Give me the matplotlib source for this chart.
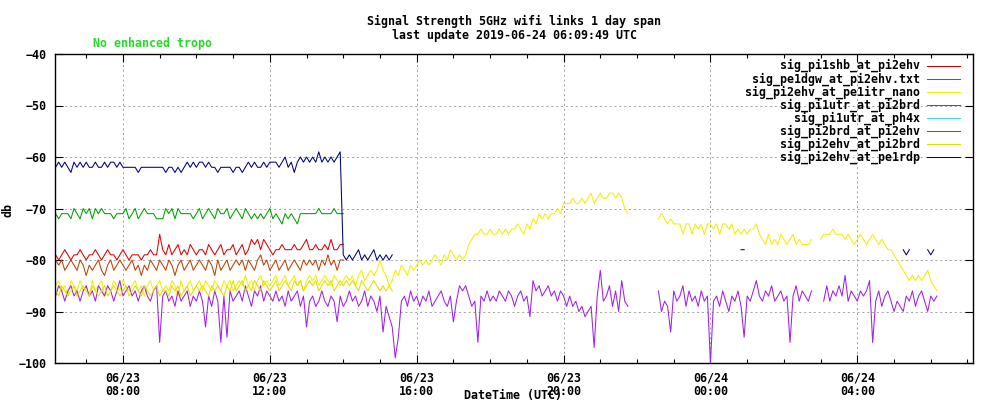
import numpy as np
import matplotlib
matplotlib.use("Agg")
import matplotlib.pyplot as plt
import matplotlib.dates as mdates
from datetime import datetime, timedelta

nan = np.nan

# samples every 5 minutes from 06/23 06:10 UTC
start_time = datetime(2019, 6, 23, 6, 10)
n_samples = 289

labels = [
    "sig_pi1shb_at_pi2ehv",
    "sig_pe1dgw_at_pi2ehv.txt",
    "sig_pi2ehv_at_pe1itr_nano",
    "sig_pi1utr_at_pi2brd",
    "sig_pi1utr_at_ph4x",
    "sig_pi2brd_at_pi2ehv",
    "sig_pi2ehv_at_pi2brd",
    "sig_pi2ehv_at_pe1rdp",
]
colors = ["#e00000", "#00a000", "#f2f000", "#a020e8",
          "#40e0d8", "#c04000", "#e6dc00", "#000080"]

pi1shb = [
    -79, -80, -79, -78, -79, -80, -79, -79, -78, -79, -80, -79,
    -79, -78, -79, -80, -79, -78, -79, -79, -80, -79, -78, -79,
    -80, -79, -79, -79, -80, -79, -79, -78, -79, -79, -75, -78,
    -79, -77, -79, -78, -77, -79, -78, -79, -77, -78, -79, -78,
    -78, -79, -77, -78, -79, -78, -77, -79, -78, -78, -77, -79,
    -78, -77, -79, -78, -76, -77, -76, -78, -76, -77, -78, -79,
    -78, -78, -77, -78, -78, -78, -77, -78, -78, -77, -76, -78,
    -78, -77, -78, -78, -77, -78, -76, -78, -78, -77, -77,
]

pe1dgw = [
    -71, -72, -71, -71, -71, -72, -70, -71, -72, -70, -71, -70,
    -72, -70, -71, -70, -71, -71, -71, -72, -71, -71, -71, -70,
    -72, -71, -70, -72, -71, -70, -71, -71, -71, -72, -72, -72,
    -70, -71, -70, -72, -70, -71, -71, -71, -71, -72, -71, -70,
    -72, -71, -70, -71, -72, -70, -71, -71, -70, -72, -71, -70,
    -71, -72, -70, -71, -72, -71, -72, -71, -72, -71, -70, -72,
    -71, -72, -73, -71, -72, -71, -72, -73, -71, -71, -71, -71,
    -71, -71, -70, -71, -71, -71, -71, -70, -71, -71, -71,
]

pe1itr_nano = [
    -85, -84, -86, -85, -87, -84, -85, -86, -84, -86, -85, -87,
    -84, -86, -85, -84, -87, -85, -86, -84, -85, -86, -84, -85,
    -86, -85, -84, -86, -85, -87, -85, -84, -86, -85, -84, -86,
    -85, -86, -84, -85, -87, -84, -86, -85, -84, -86, -85, -84,
    -86, -84, -85, -86, -84, -85, -86, -84, -85, -84, -86, -85,
    -84, -85, -83, -85, -84, -86, -84, -83, -85, -84, -85, -84,
    -83, -85, -84, -83, -85, -84, -83, -85, -84, -86, -84, -83,
    -84, -83, -85, -84, -83, -84, -85, -83, -84, -85, -84, -83,
    -84, -83, -85, -83, -82, -84, -83, -82, -83, -82, -80, -82,
    -83, -85, -84, -82, -83, -81, -82, -83, -81, -82, -81, -80,
    -81, -80, -81, -80, -79, -80, -81, -79, -80, -78, -79, -80,
    -79, -80, -79, -77, -76, -75, -75, -74, -75, -75, -74, -75,
    -75, -74, -75, -74, -75, -74, -74, -73, -74, -75, -73, -74,
    -72, -73, -71, -72, -71, -72, -71, -71, -70, -71, -69, -69,
    -69, -68, -69, -69, -68, -69, -68, -67, -69, -68, -67, -68,
    -68, -67, -67, -68, -67, -68, -70, -71, nan, nan, nan, nan,
    nan, nan, nan, nan, nan, -72, -71, -72, -73, -72, -73, -73,
    -73, -75, -73, -73, -75, -73, -74, -73, -75, -73, -73, -74,
    -73, -75, -73, -73, -74, -73, -75, -74, -75, -74, -75, -74,
    -74, -73, -75, -76, -77, -75, -77, -76, -77, -75, -76, -77,
    -76, -75, -77, -76, -77, -77, -77, -76, nan, nan, -76, -75,
    -75, -75, -74, -75, -75, -75, -76, -75, -76, -77, -76, -75,
    -76, -77, -76, -75, -76, -77, -76, -77, -78, -78, -79, -80,
    -81, -82, -83, -84, -83, -84, -83, -84, -83, -82, -84, -85, -86,
]

pi1utr_pi2brd = [
    -87, -85, -86, -88, -86, -85, -87, -86, -88, -86, -85, -87,
    -86, -88, -85, -86, -87, -85, -86, -88, -86, -84, -87, -86,
    -85, -87, -86, -88, -86, -85, -87, -88, -86, -85, -96, -87,
    -86, -88, -87, -89, -86, -88, -87, -86, -89, -87, -88, -86,
    -88, -93, -87, -89, -86, -88, -96, -87, -95, -86, -88, -87,
    -86, -88, -85, -87, -89, -86, -87, -85, -88, -86, -87, -88,
    -86, -88, -87, -89, -86, -88, -87, -86, -89, -87, -93, -88,
    -87, -89, -88, -86, -88, -89, -87, -88, -92, -87, -89, -88,
    -86, -88, -87, -89, -88, -86, -89, -87, -88, -90, -87, -94,
    -89, -91, -93, -99, -95, -88, -87, -89, -86, -88, -87, -89,
    -87, -88, -86, -89, -88, -87, -86, -88, -89, -87, -92, -88,
    -85, -86, -85, -87, -89, -88, -96, -87, -88, -86, -88, -87,
    -88, -86, -87, -88, -86, -87, -89, -87, -86, -88, -87, -91,
    -84, -86, -85, -87, -86, -85, -87, -86, -88, -86, -87, -89,
    -87, -89, -88, -90, -89, -91, -90, -89, -97, -87, -82, -88,
    -87, -85, -89, -86, -90, -84, -88, -89, nan, nan, nan, nan,
    nan, nan, nan, nan, nan, -86, -90, -88, -89, -94, -86, -88,
    -87, -85, -89, -86, -88, -87, -89, -86, -88, -87, -100, -88,
    -87, -89, -86, -88, -90, -87, -88, -86, -89, -95, -87, -88,
    -86, -84, -87, -88, -86, -87, -85, -88, -87, -86, -88, -87,
    -96, -87, -85, -88, -86, -87, -88, -86, nan, nan, nan, -88,
    -85, -88, -86, -87, -85, -87, -83, -88, -86, -87, -88, -86,
    -87, -86, -84, -96, -88, -86, -89, -87, -86, -88, -90, -88,
    -89, -90, -87, -88, -86, -89, -87, -86, -88, -90, -87, -88, -87,
]

pi1utr_ph4x = []

pi2brd_pi2ehv = [
    -80, -81, -80, -82, -81, -80, -81, -82, -80, -81, -83, -81,
    -82, -81, -80, -82, -83, -81, -80, -82, -81, -80, -81, -82,
    -81, -80, -82, -81, -83, -81, -82, -80, -81, -82, -80, -81,
    -82, -80, -81, -83, -81, -80, -82, -81, -80, -82, -81, -80,
    -81, -82, -80, -81, -83, -80, -82, -81, -80, -82, -81, -80,
    -81, -80, -82, -80, -81, -82, -80, -79, -81, -80, -82, -81,
    -80, -82, -81, -80, -82, -81, -80, -81, -82, -80, -81, -80,
    -81, -80, -82, -80, -81, -79, -81, -80, -82, -80, -80,
]

pi2ehv_pi2brd = [
    -86, -87, -85, -86, -87, -86, -85, -87, -86, -85, -86, -87,
    -85, -86, -87, -86, -85, -87, -86, -85, -86, -87, -86, -85,
    -87, -86, -85, -86, -87, -85, -86, -87, -86, -85, -87, -86,
    -86, -87, -85, -86, -85, -87, -86, -85, -87, -86, -85, -86,
    -85, -86, -87, -85, -86, -85, -86, -87, -85, -86, -84, -86,
    -85, -84, -86, -85, -86, -84, -85, -86, -84, -85, -86, -85,
    -84, -86, -85, -84, -85, -86, -84, -85, -84, -86, -85, -84,
    -85, -84, -86, -85, -84, -85, -84, -86, -85, -84, -85, -84,
    -85, -84, -85, -86, -84, -85, -86, -85, -84, -85, -86, -85,
    -86, -85, -86,
]

pe1rdp = [
    -62, -61, -62, -61, -62, -63, -61, -62, -61, -62, -61, -62,
    -62, -61, -62, -62, -61, -62, -61, -61, -62, -61, -62, -62,
    -62, -62, -62, -63, -62, -62, -62, -62, -62, -62, -62, -62,
    -63, -62, -62, -63, -62, -63, -62, -61, -62, -61, -62, -61,
    -61, -62, -61, -62, -62, -63, -62, -62, -62, -62, -63, -62,
    -62, -63, -62, -61, -62, -61, -62, -62, -61, -62, -61, -61,
    -61, -62, -61, -60, -62, -61, -63, -61, -60, -61, -60, -61,
    -60, -61, -59, -61, -60, -61, -60, -61, -60, -59,
    -79, -80, -79, -80, -79, -78, -80, -79, -80, -79, -78, -80,
    -79, -80, -79, -80, -79,
]
# a few short bits later in the day
pe1rdp_late_idx = [224, 225, 277, 278, 279, 285, 286, 287]
pe1rdp_late_val = [-78, -78, -78, -79, -78, -78, -79, -78]

times = [start_time + timedelta(minutes=5 * i) for i in range(n_samples)]

rdp_full = np.full(n_samples, np.nan)
rdp_full[:len(pe1rdp)] = pe1rdp
rdp_full[pe1rdp_late_idx] = pe1rdp_late_val

series = [pi1shb, pe1dgw, pe1itr_nano, pi1utr_pi2brd,
          pi1utr_ph4x, pi2brd_pi2ehv, pi2ehv_pi2brd, rdp_full]

W, H = 998, 416
fig = plt.figure(figsize=(W / 100, H / 100), dpi=100)
ax = fig.add_axes([55 / W, 1 - 363 / H, (973 - 55) / W, (363 - 54) / H])

font = {"family": "DejaVu Sans Mono", "weight": "bold", "size": 8.4}

for vals, col in zip(series, colors):
    vals = np.array(vals, dtype=float)
    ax.plot(times[:len(vals)], vals, color=col, lw=0.75)

ax.set_ylim(-100, -40)
ax.set_xlim(datetime(2019, 6, 23, 6, 9), datetime(2019, 6, 24, 7, 9))
ax.set_yticks(np.arange(-100, -39, 10))
ax.xaxis.set_major_locator(mdates.HourLocator(byhour=[0, 4, 8, 12, 16, 20]))
ax.xaxis.set_minor_locator(mdates.HourLocator())
ax.xaxis.set_major_formatter(mdates.DateFormatter("%m/%d\n%H:%M"))

ax.tick_params(which="both", direction="in", top=True, right=True)
ax.tick_params(which="major", length=6, width=0.8)
ax.tick_params(which="minor", length=3, width=0.8)
ax.tick_params(axis="y", pad=6)
ax.tick_params(axis="x", pad=6)
for lab in ax.get_xticklabels() + ax.get_yticklabels():
    lab.set_fontfamily(font["family"])
    lab.set_fontweight("bold")
    lab.set_fontsize(font["size"])
    lab.set_linespacing(1.1)

ax.grid(True, which="major", color="#a0a0a0", linestyle=(0, (2, 3)), lw=0.7)
for sp in ax.spines.values():
    sp.set_linewidth(1.0)

# title and labels
fig.text(514 / W, 1 - 21 / H, "Signal Strength 5GHz wifi links 1 day span",
         ha="center", va="center", **font)
fig.text(514 / W, 1 - 35 / H, "last update 2019-06-24 06:09:49 UTC",
         ha="center", va="center", **font)
fig.text(93 / W, 1 - 44 / H, "No enhanced tropo", ha="left", va="center",
         color="#22dd22", **font)
fig.text(8 / W, 1 - 210 / H, "db", ha="center", va="center", rotation=90, **font)
fig.text(513 / W, 1 - 396 / H, "DateTime (UTC)", ha="center", va="center", **font)

# key, gnuplot style: text right aligned, sample line on the right
for k, (lab, col) in enumerate(zip(labels, colors)):
    y = 1 - (65.7 + 13.1 * k) / H
    fig.text(920 / W, y, lab, ha="right", va="center", **font)
    fig.add_artist(plt.Line2D([927 / W, 960 / W], [y, y], color=col, lw=0.75,
                              transform=fig.transFigure))

fig.savefig("out.png", dpi=100)
